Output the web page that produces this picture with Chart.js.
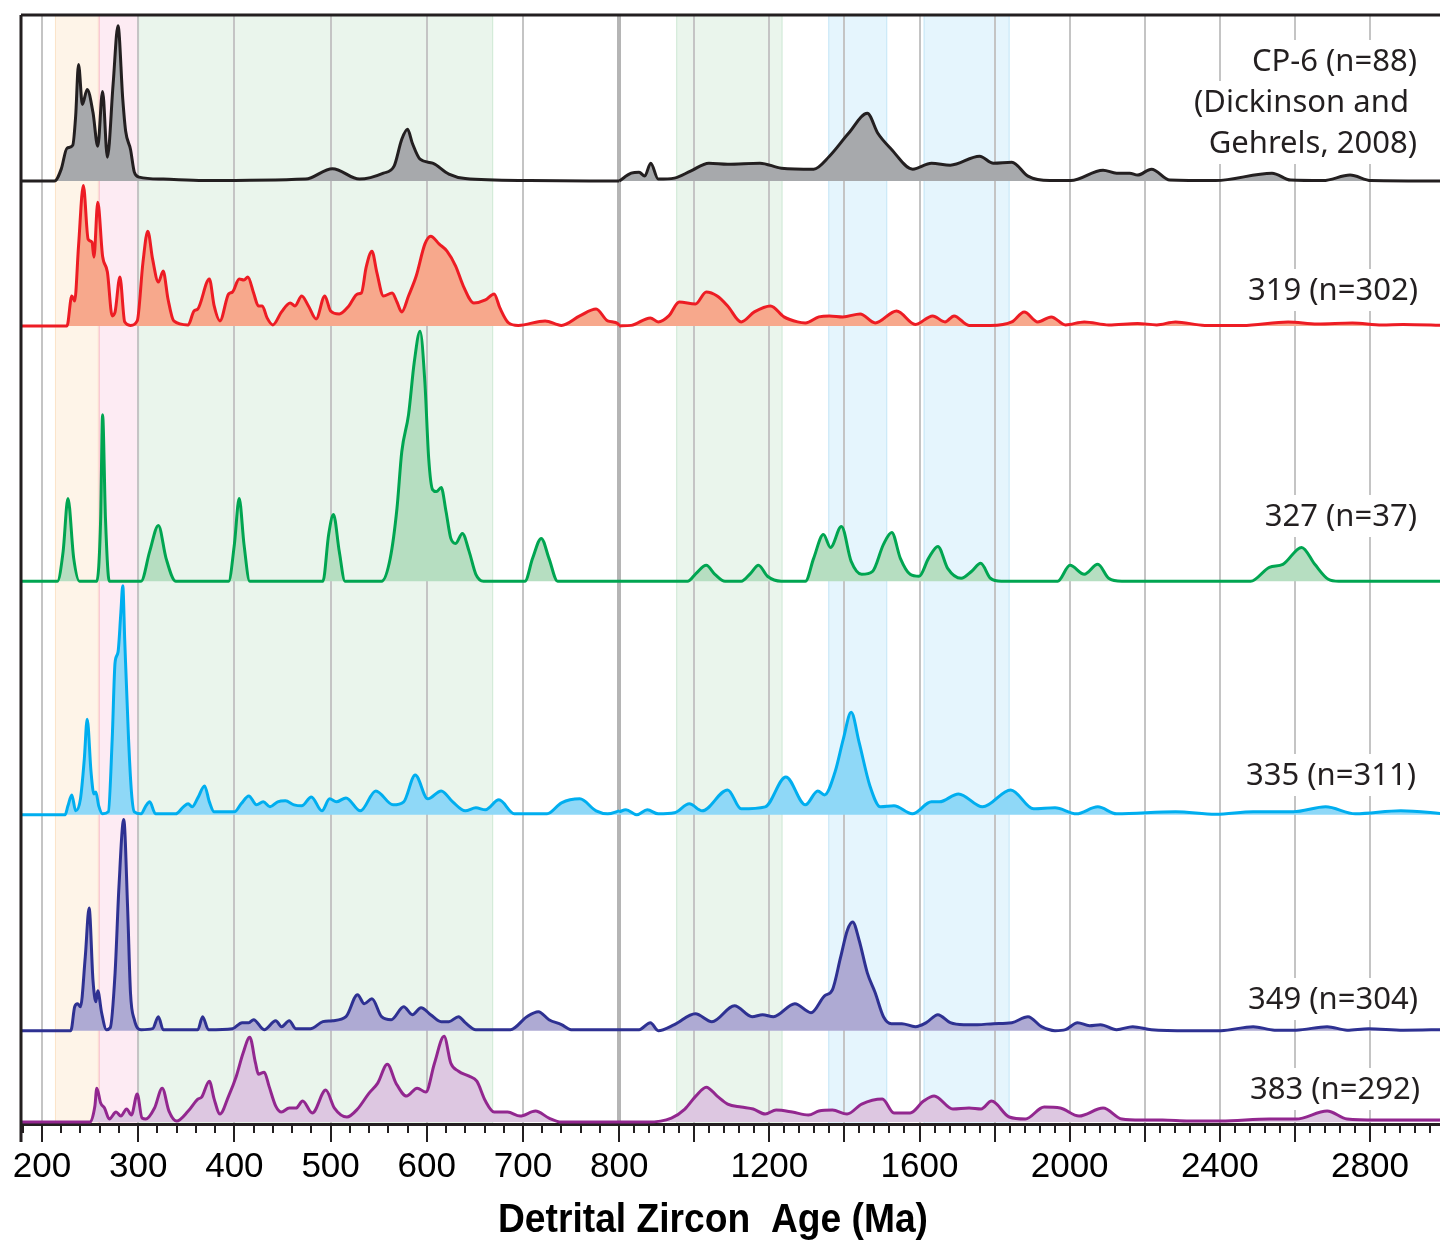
<!DOCTYPE html>
<html>
<head>
<meta charset="utf-8">
<title>Detrital zircon age spectra</title>
<script src="https://cdn.jsdelivr.net/npm/chart.js@4.4.1/dist/chart.umd.min.js"></script>
<style>
  html, body { margin: 0; padding: 0; background: #fff; }
  canvas { display: block; }
</style>
</head>
<body>
<canvas id="kde" width="1440" height="1240"></canvas>
<script>
// --- data: [age (Ma), density height above the sample's own baseline] ---
// each sample is split at the 800 Ma break of the axis
const cp6Young = [[178,0],[213,0],[220,12],[226,33],[232,36],[235,65],[238,117],[242,77],[247,92],[253,69],[258,35],[263,90],[268,24],[274,98],[279,156],[284,82],[287,50],[292,32],[296,9],[301,4],[326,2],[368,0.5],[474,2],[502,12.5],[530,2],[555,8],[566,15],[574,42],[580,52],[585,38],[593,22],[606,18],[623,7],[640,2.5],[707,0.5],[800,0]];
const cp6Old = [[800,0],[832,8],[853,9],[868,5],[884,18],[904,2],[947,3],[990,10],[1039,18],[1089,17],[1175,18],[1232,13],[1318,12],[1360,25],[1411,48],[1461,68],[1489,48],[1525,32],[1582,12],[1632,18],[1682,16],[1760,25],[1797,18],[1846,19],[1889,5],[1947,0.5],[2003,0.5],[2089,11],[2125,8],[2160,8],[2181,6],[2218,12],[2267,1],[2389,0.5],[2539,8],[2589,1],[2675,0.5],[2747,6],[2803,0.5],[3000,0]];

const s319Young = [[178,0],[226,0],[231,30],[234,25],[238,80],[243,141],[248,87],[252,84],[254,69],[258,124],[263,70],[268,54],[273,10],[276,14],[281,49],[286,4],[292,0.5],[299,5],[305,64],[310,95],[315,67],[321,44],[326,55],[331,27],[337,5],[352,1],[358,15],[362,17],[374,47],[379,20],[385,5],[394,32],[398,34],[405,47],[410,46],[414,49],[420,33],[425,20],[429,20],[434,8],[440,1],[449,14],[458,23],[463,20],[470,30],[477,20],[485,7],[494,30],[500,15],[509,12],[519,20],[528,32],[532,33],[537,59],[543,75],[548,54],[555,30],[564,33],[569,24],[574,14],[581,30],[589,50],[598,82],[604,90],[613,82],[621,75],[630,60],[638,40],[649,23],[661,26],[670,32],[676,18],[685,3],[695,0.5],[723,5],[740,0.5],[759,10],[776,17],[788,5],[799,2],[800,0]];
const s319Old = [[800,0],[832,0.5],[883,8],[904,4],[932,10],[960,24],[1003,22],[1032,34],[1061,30],[1089,20],[1125,4],[1160,14],[1203,20],[1239,9],[1275,4],[1296,3],[1332,9],[1360,10],[1396,9],[1442,12],[1482,3],[1539,15],[1589,1.5],[1635,10],[1668,4],[1692,10],[1732,0.5],[1789,0.5],[1846,4],[1879,14],[1915,4],[1951,9],[1989,1],[2039,4],[2104,1],[2181,2.5],[2232,1],[2282,4],[2360,0.5],[2460,0.5],[2582,4],[2660,2],[2753,3],[2832,1],[2888,1.5],[3000,0.5]];

const s327Young = [[178,0],[216,0],[222,30],[227,83],[233,23],[239,0],[257,0],[261,63],[263,167],[266,63],[270,0],[303,0],[312,30],[321,56],[329,23],[339,0],[394,0],[400,37],[405,83],[410,37],[416,0],[492,0],[498,47],[503,67],[509,30],[515,0],[553,0],[562,23],[569,73],[574,130],[581,167],[587,220],[593,251],[598,200],[602,123],[606,92],[610,90],[615,94],[620,70],[625,43],[630,38],[637,48],[644,30],[651,7],[659,0],[702,0],[710,23],[719,43],[727,23],[736,0],[800,0]];
const s327Old = [[800,0],[982,0],[1005,8],[1032,16],[1055,7],[1082,0],[1125,0],[1150,8],[1171,16],[1195,5],[1232,0],[1296,0],[1318,23],[1344,47],[1363,34],[1392,55],[1418,20],[1446,7],[1475,10],[1504,37],[1526,49],[1549,23],[1575,7],[1599,5],[1624,23],[1649,35],[1675,13],[1711,3],[1739,10],[1763,18],[1789,3],[1818,0],[1968,0],[2001,16],[2039,7],[2075,17],[2104,3],[2139,0],[2482,0],[2532,14],[2568,17],[2618,34],[2653,17],[2689,2],[2717,0],[3000,0]];

const s335Young = [[178,0],[224,0],[227,9],[231,20],[235,4],[240,16],[244,56],[247,96],[251,43],[254,21],[256,23],[259,9],[263,1],[269,3],[273,76],[276,153],[279,163],[282,203],[284,230],[286,176],[290,76],[293,23],[296,3],[303,1],[308,9],[312,13],[318,1],[339,1],[347,8],[352,11],[356,8],[362,17],[369,29],[374,13],[379,3],[400,3],[407,11],[415,19],[423,10],[430,13],[437,8],[445,13],[453,14],[462,10],[470,9],[480,18],[491,4],[499,16],[506,13],[516,17],[531,4],[547,24],[565,10],[576,13],[588,40],[601,16],[615,24],[627,13],[640,4],[651,7],[661,5],[675,15],[691,1],[725,1],[740,12],[759,16],[776,4],[788,1],[800,4]];
const s335Old = [[800,3],[818,5],[847,0],[875,5],[904,1],[947,2],[987,11],[1021,4],[1089,25],[1125,6],[1189,8],[1244,38],[1296,10],[1329,24],[1347,20],[1375,43],[1397,76],[1418,103],[1439,73],[1468,29],[1496,8],[1532,9],[1581,1],[1632,13],[1653,13],[1704,21],[1768,8],[1843,25],[1904,6],[1961,7],[2018,1],[2075,8],[2125,1],[2282,3],[2389,0.5],[2489,3],[2596,3],[2682,8],[2761,1],[2882,4],[3000,1]];

const s349Young = [[178,0],[230,0],[234,24],[237,27],[240,24],[245,74],[249,123],[253,51],[256,29],[258,40],[262,18],[267,1],[271,3],[276,58],[280,144],[285,212],[289,124],[292,38],[296,11],[303,1],[315,2],[321,14],[326,1],[362,1],[367,14],[373,1],[398,2],[408,8],[415,8],[420,11],[431,1],[443,10],[449,4],[457,10],[464,2],[479,2],[492,9],[502,10],[516,14],[528,36],[535,27],[543,32],[553,14],[563,11],[576,24],[585,16],[594,23],[604,16],[615,9],[623,9],[633,14],[640,8],[651,1],[687,1],[704,14],[716,19],[727,11],[740,6],[750,1],[800,1]];
const s349Old = [[800,1],[853,1],[883,8],[904,0],[947,6],[1003,17],[1047,9],[1107,25],[1154,14],[1182,16],[1211,14],[1268,27],[1311,18],[1347,35],[1368,41],[1390,74],[1408,101],[1422,109],[1439,91],[1461,58],[1482,38],[1504,14],[1525,7],[1553,7],[1589,4],[1618,8],[1649,16],[1682,8],[1718,6],[1754,6],[1797,7],[1846,8],[1889,14],[1925,4],[1961,0],[1989,1],[2021,8],[2053,5],[2082,6],[2125,1],[2168,4],[2218,1],[2318,0],[2403,0],[2489,4],[2546,0.5],[2603,0.5],[2686,4],[2739,0.5],[2796,2],[2889,0.5],[3000,1]];

const s383Young = [[178,0],[250,0],[255,16],[257,34],[261,19],[265,14],[270,3],[277,10],[282,6],[288,13],[293,7],[299,28],[304,4],[308,3],[317,14],[325,34],[332,11],[340,1],[352,11],[362,23],[366,25],[374,41],[379,23],[385,8],[394,26],[402,46],[409,69],[416,85],[422,59],[425,48],[431,50],[436,36],[443,16],[449,10],[457,14],[464,14],[471,21],[481,9],[495,32],[504,14],[517,5],[528,13],[540,29],[549,39],[559,58],[568,39],[579,26],[590,34],[599,30],[608,59],[618,86],[625,59],[633,51],[644,46],[652,41],[661,21],[670,10],[684,10],[697,6],[713,11],[727,4],[740,0],[800,0]];
const s383Old = [[800,0],[875,0],[939,4],[975,13],[1004,26],[1032,35],[1061,26],[1089,18],[1125,15],[1157,13],[1189,8],[1218,12],[1261,10],[1304,7],[1332,11],[1368,12],[1407,8],[1446,18],[1501,23],[1532,9],[1575,9],[1611,21],[1639,26],[1689,13],[1732,14],[1764,13],[1792,21],[1839,5],[1882,3],[1932,15],[1975,14],[2025,6],[2089,14],[2139,3],[2190,2],[2247,2],[2318,1],[2403,1],[2532,3],[2603,3],[2686,11],[2739,3],[2818,2],[3000,2]];

const sampleLabels = [
  ['CP-6 (n=88)', '(Dickinson and ', 'Gehrels, 2008)'],
  ['319 (n=302)'],
  ['327 (n=37)'],
  ['335 (n=311)'],
  ['349 (n=304)'],
  ['383 (n=292)'],
];

// age windows shaded behind the curves
const bandAges = [[213.5, 259], [259, 300], [300, 669], [952, 1235], [1357, 1514], [1611, 1840]];

const majorAges = [200, 300, 400, 500, 600, 700, 800, 1000, 1200, 1400, 1600, 1800, 2000, 2200, 2400, 2600, 2800];
const tickText = ['200', '300', '400', '500', '600', '700', '800', '', '1200', '', '1600', '', '2000', '', '2400', '', '2800'];
const axisTitle = 'Detrital Zircon  Age (Ma)';

// --- layout / style ---
const K = 0.3902; // axis compression above 800 Ma
const toU = (a) => (a <= 800 ? a : 800 + (a - 800) * K);

const baselines = [946.3, 801, 544.7, 310.3, 93.7, 2];
const lineColors = ['#231f20', '#ed1c24', '#00a551', '#00aeef', '#2e3192', '#92278f'];
const fillColors = ['#a7a9ac', '#f7a88c', '#b6dec1', '#8fd8f7', '#aeaad3', '#ddc7e1'];
const bandFill = ['#fef4e8', '#fdebf3', '#eaf5ec', '#eaf5ec', '#e5f5fd', '#e5f5fd'];
const bandEdge = ['#fbe3c9', '#f7bcc8', '#cfe9d6', '#cfe9d6', '#c6e7f7', '#c6e7f7'];
const labelRight = [1417, 1418, 1417, 1416, 1418, 1420];
const labelY = [[61, 102, 143], [290], [516], [775], [999], [1089]];

const samples = [[cp6Young, cp6Old], [s319Young, s319Old], [s327Young, s327Old], [s335Young, s335Old], [s349Young, s349Old], [s383Young, s383Old]];

function buildPoints(young, old, base) {
  const pts = young.map(([a, h]) => ({ x: toU(a), y: base + h }));
  pts.push({ x: toU(800), y: null }); // break at 800 Ma
  old.forEach(([a, h]) => pts.push({ x: toU(a), y: base + h }));
  return pts;
}

const datasets = samples.map((s, i) => ({
  label: sampleLabels[i][0],
  data: buildPoints(s[0], s[1], baselines[i]),
  borderColor: lineColors[i],
  backgroundColor: fillColors[i],
  borderWidth: 3,
  pointRadius: 0,
  fill: { value: baselines[i] },
  cubicInterpolationMode: 'monotone',
  spanGaps: false,
}));

const bandPlugin = {
  id: 'bands',
  beforeDraw(chart) {
    const { ctx, chartArea: a } = chart;
    const x = chart.scales.x;
    ctx.save();
    bandAges.forEach((b, i) => {
      const x1 = x.getPixelForValue(toU(b[0]));
      const x2 = x.getPixelForValue(toU(b[1]));
      ctx.fillStyle = bandFill[i];
      ctx.fillRect(x1, a.top, x2 - x1, a.bottom - a.top);
      ctx.strokeStyle = bandEdge[i];
      ctx.lineWidth = 1;
      ctx.strokeRect(x1 + 0.5, a.top, x2 - x1 - 1, a.bottom - a.top);
    });
    ctx.restore();
  },
};

const labelPlugin = {
  id: 'sampleLabels',
  beforeDatasetsDraw(chart) {
    const ctx = chart.ctx;
    ctx.save();
    ctx.font = '31px "Noto Sans", "Open Sans", sans-serif';
    ctx.textAlign = 'right';
    ctx.textBaseline = 'middle';
    sampleLabels.forEach((lines, i) => {
      lines.forEach((t, j) => {
        const w = ctx.measureText(t).width;
        const y = labelY[i][j];
        ctx.fillStyle = '#fff';
        ctx.fillRect(labelRight[i] - w - 9, y - 21, w + 18, 42);
        ctx.fillStyle = '#231f20';
        ctx.fillText(t, labelRight[i], y + 1);
      });
    });
    ctx.restore();
  },
};

const framePlugin = {
  id: 'frame',
  afterDraw(chart) {
    const { ctx, chartArea: a } = chart;
    const x = chart.scales.x;
    ctx.save();
    ctx.strokeStyle = '#231f20';
    ctx.lineWidth = 3;
    ctx.beginPath();
    ctx.moveTo(a.left, a.top);
    ctx.lineTo(a.right, a.top);
    ctx.moveTo(a.left, a.top);
    ctx.lineTo(a.left, a.bottom + 18);
    ctx.stroke();
    // minor ticks
    ctx.lineWidth = 2;
    ctx.beginPath();
    const minor = [];
    for (let t = 180; t < 800; t += 20) if (t % 100) minor.push(t);
    for (let t = 840; t <= 3000; t += 40) if (t % 200) minor.push(t);
    minor.forEach((t) => {
      const px = Math.round(x.getPixelForValue(toU(t)));
      if (px > a.right) return;
      ctx.moveTo(px, a.bottom);
      ctx.lineTo(px, a.bottom + 9);
    });
    ctx.stroke();
    // axis title
    ctx.font = 'bold 41px "Liberation Sans", Arial, sans-serif';
    ctx.fillStyle = '#000';
    ctx.textAlign = 'center';
    ctx.textBaseline = 'alphabetic';
    const w = ctx.measureText(axisTitle).width;
    ctx.translate(713, 1232);
    ctx.scale(430 / w, 1);
    ctx.fillText(axisTitle, 0, 0);
    ctx.restore();
  },
};

new Chart(document.getElementById('kde'), {
  type: 'line',
  data: { datasets },
  plugins: [bandPlugin, labelPlugin, framePlugin],
  options: {
    responsive: false,
    animation: false,
    devicePixelRatio: 1,
    events: [],
    layout: { padding: { left: 21, top: 15, right: 0, bottom: 48 } },
    plugins: { legend: { display: false }, tooltip: { enabled: false } },
    scales: {
      x: {
        type: 'linear',
        min: 178.2,
        max: 1653.2,
        afterBuildTicks: (scale) => {
          scale.ticks = majorAges.map((a) => ({ value: toU(a) }));
        },
        ticks: {
          autoSkip: false,
          maxRotation: 0,
          padding: 4,
          color: '#000',
          font: { family: '"Liberation Sans", Arial, sans-serif', size: 35 },
          callback: (v, i) => tickText[i],
        },
        grid: {
          color: (c) => (c.tick && c.tick.value === 800 ? '#b5b5b5' : '#c4c4c4'),
          lineWidth: (c) => (c.tick && c.tick.value === 800 ? 4 : 2),
          tickLength: 18,
          tickColor: '#231f20',
          tickWidth: 2,
        },
        border: { display: true, color: '#231f20', width: 3 },
      },
      y: { display: false, min: 0, max: 1113 },
    },
  },
});
</script>
</body>
</html>
